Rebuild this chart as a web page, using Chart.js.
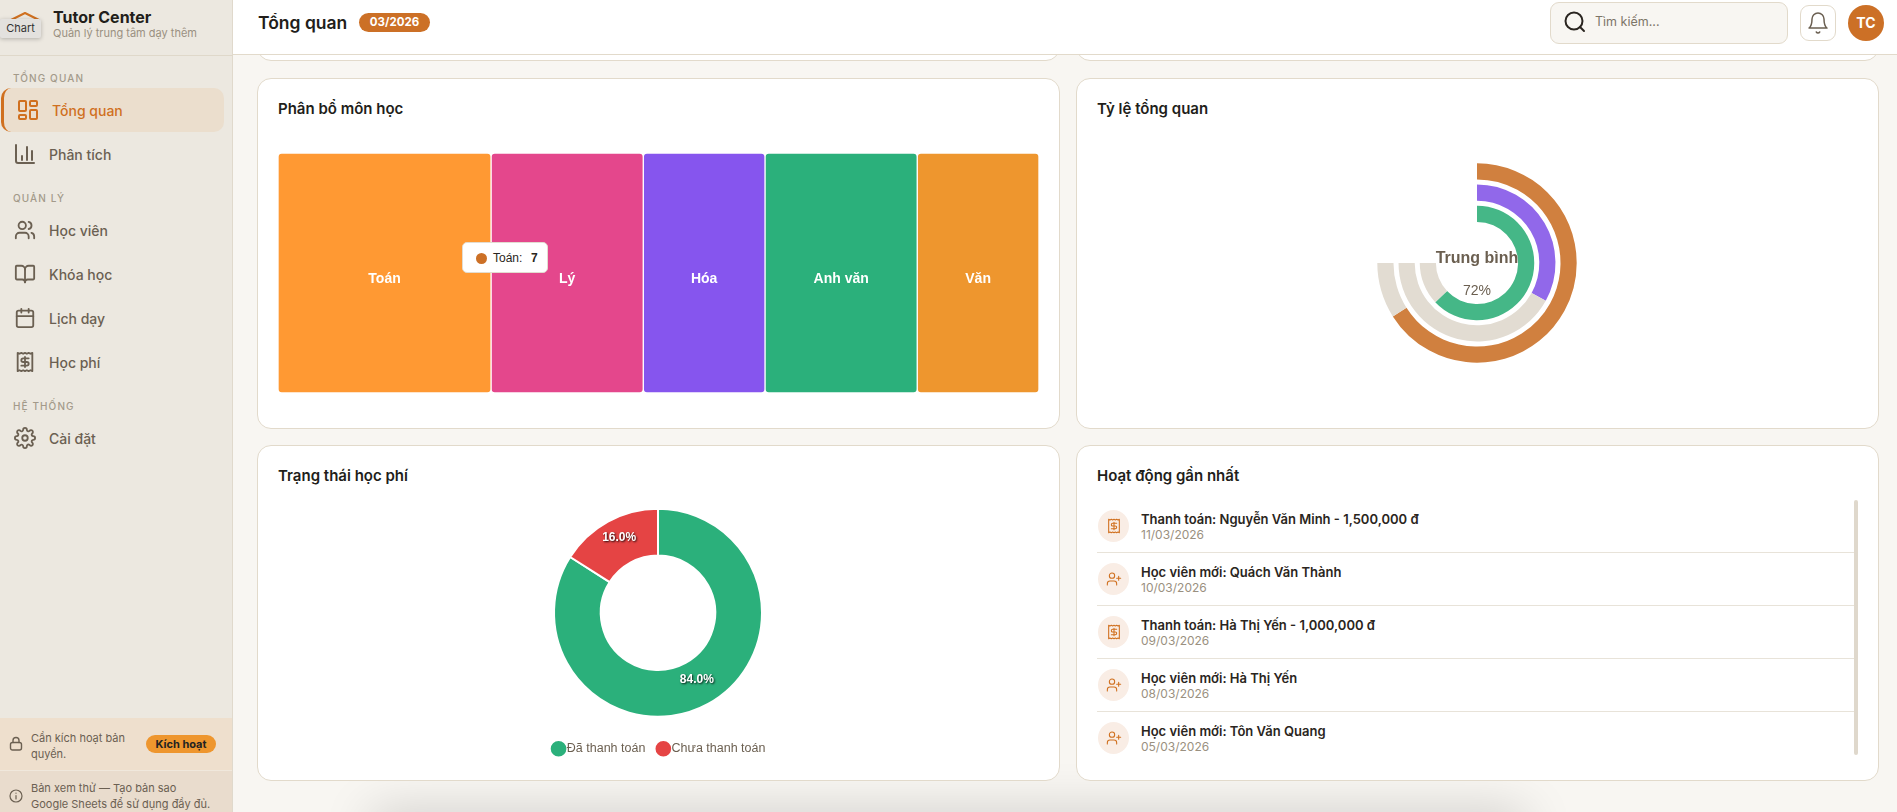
<!DOCTYPE html>
<html lang="vi"><head><meta charset="utf-8">
<script src="https://cdn.jsdelivr.net/npm/chart.js@4"></script>
<style>
*{box-sizing:border-box}
html,body{margin:0;padding:0;width:1897px;height:812px;overflow:hidden;background:#f8f6f2;font-family:Inter,"Noto Sans",sans-serif;color:#2a2520}
.t{position:absolute;white-space:nowrap;line-height:1}
svg{position:absolute;fill:none;stroke:currentColor;stroke-width:2;stroke-linecap:round;stroke-linejoin:round}
.side{position:absolute;left:0;top:0;width:233px;height:812px;background:#ece8e0;border-right:1px solid #e0d9cc}
.head{position:absolute;left:233px;top:0;width:1664px;height:55px;background:#fff;border-bottom:1px solid #e2dacb}
.card{position:absolute;background:#fff;border:1px solid #e2dacb;border-radius:14px}
.sec{font-size:10px;font-weight:500;letter-spacing:1.1px;color:#a39a8a}
.nav{font-size:14px;font-weight:500;color:#6b6052}
.ct{font-size:15px;font-weight:600;color:#221e1a}
canvas{position:absolute}
.row1{font-size:13px;font-weight:600;color:#2a2520}
.row2{font-size:12px;color:#9a9080}
.ico{position:absolute;width:31px;height:32px;left:1098px;border-radius:50%;background:#f9ede5;color:#d0701f}
.div{position:absolute;left:1097px;width:757px;height:1px;background:#e8e3d9}
</style></head><body>
<div style="position:absolute;left:372px;top:812px;width:1153px;height:40px;box-shadow:0 0 50px rgba(0,0,0,.18)"></div>
<div class="card" style="left:257px;top:-40px;width:803px;height:101px"></div>
<div class="card" style="left:1076px;top:-40px;width:803px;height:101px"></div>
<div class="card" style="left:257px;top:78px;width:803px;height:351px"></div>
<div class="card" style="left:1076px;top:78px;width:803px;height:351px"></div>
<div class="card" style="left:257px;top:445px;width:803px;height:336px"></div>
<div class="card" style="left:1076px;top:445px;width:803px;height:336px"></div>

<div class="t ct" style="left:278px;top:101px">Phân bổ môn học</div>
<div class="t ct" style="left:1097px;top:101px">Tỷ lệ tổng quan</div>
<div class="t ct" style="left:278px;top:468px">Trạng thái học phí</div>
<div class="t ct" style="left:1097px;top:468px">Hoạt động gần nhất</div>

<canvas id="tree" style="left:278px;top:153px;width:761px;height:240px"></canvas>
<canvas id="radial" style="left:1277px;top:63px;width:400px;height:400px"></canvas>
<canvas id="fee" style="left:278px;top:499px;width:760px;height:266px"></canvas>
<div id="tip" style="position:absolute;left:462px;top:242px;width:86px;height:31px;background:#fff;border:1px solid #e2dcd0;border-radius:5px;font:12px 'Liberation Sans',sans-serif;color:#2a2520"></div>

<div id="list"></div>
<div style="position:absolute;left:1854px;top:500px;width:4px;height:255px;background:#dfd8cc;border-radius:2px"></div>

<!-- header -->
<div class="head"></div>
<div class="t" style="left:258px;top:14px;font-size:17.5px;font-weight:600;color:#221e1a">Tổng quan</div>
<div class="t" style="left:359px;top:13px;width:71px;height:19px;border-radius:10px;background:#cc7026;color:#fff;font-size:11.5px;font-weight:700;text-align:center;line-height:19px">03/2026</div>
<div style="position:absolute;left:1550px;top:2px;width:238px;height:42px;background:#f8f6f2;border:1px solid #e2dacb;border-radius:9px"></div>
<svg style="left:1564px;top:11px;color:#2a2520" width="22" height="22" viewBox="0 0 22 22"><circle cx="10" cy="10" r="8.5"/><path d="M16 16l4 4"/></svg>
<div class="t" style="left:1595px;top:16px;font-size:12.5px;color:#7d7568">Tìm kiếm...</div>
<div style="position:absolute;left:1800px;top:5px;width:36px;height:36px;background:#fff;border:1px solid #e2dacb;border-radius:9px"></div>
<svg style="left:1806px;top:11px;color:#6b6052;stroke-width:1.5" width="24" height="24" viewBox="0 0 24 24"><path d="M6 8a6 6 0 0 1 12 0c0 7 3 9 3 9H3s3-2 3-9"/><path d="M10.3 21a2 2 0 0 0 3.4 0"/></svg>
<div class="t" style="left:1848px;top:5px;width:36px;height:36px;border-radius:50%;background:#cc7026;color:#fff;font-size:14px;font-weight:700;text-align:center;line-height:36px">TC</div>

<!-- sidebar -->
<div class="side"></div>
<svg style="left:8px;top:10px;color:#d0701f" width="34" height="12" viewBox="0 0 34 12"><path d="M3 10L17 3l14 7"/></svg>
<div class="t" style="left:0;top:19px;width:41px;height:19px;background:#e3e1de;border-radius:2px;box-shadow:0 1px 4px rgba(0,0,0,.25);font:11px Inter,sans-serif;color:#333;text-align:center;line-height:19px">Chart</div>
<div class="t" style="left:53px;top:9px;font-size:16px;font-weight:700;color:#221e1a">Tutor Center</div>
<div class="t" style="left:53px;top:28px;font-size:11px;color:#9a9080">Quản lý trung tâm dạy thêm</div>
<div style="position:absolute;left:0;top:55px;width:233px;height:1px;background:#dfd8ca"></div>

<div class="t sec" style="left:13px;top:73px">TỔNG QUAN</div>
<div style="position:absolute;left:1px;top:88px;width:223px;height:44px;background:#ebdecd;border-left:3px solid #d0701f;border-radius:10px"></div>
<svg style="left:17px;top:99px;color:#d0701f" width="22" height="22" viewBox="0 0 22 22"><rect x="2" y="2" width="7" height="10" rx="1"/><rect x="13" y="2" width="7" height="5" rx="1"/><rect x="13" y="11" width="7" height="9" rx="1"/><rect x="2" y="16" width="7" height="4" rx="1"/></svg>
<div class="t nav" style="left:52px;top:104px;color:#d0701f">Tổng quan</div>
<svg style="left:14px;top:143px;color:#6b6052" width="22" height="22" viewBox="0 0 22 22"><path d="M2 2v16a2 2 0 0 0 2 2h16"/><path d="M8 17v-4M13 17V4M18 17V8"/></svg>
<div class="t nav" style="left:49px;top:148px">Phân tích</div>
<div class="t sec" style="left:13px;top:193px">QUẢN LÝ</div>
<svg style="left:14px;top:219px;color:#6b6052" width="22" height="22" viewBox="0 0 24 24"><path d="M16 21v-2a4 4 0 0 0-4-4H6a4 4 0 0 0-4 4v2"/><circle cx="9" cy="7" r="4"/><path d="M22 21v-2a4 4 0 0 0-3-3.9M16 3.1a4 4 0 0 1 0 7.8"/></svg>
<div class="t nav" style="left:49px;top:224px">Học viên</div>
<svg style="left:14px;top:263px;color:#6b6052" width="22" height="22" viewBox="0 0 24 24"><path d="M12 7v14"/><path d="M3 18a1 1 0 0 1-1-1V4a1 1 0 0 1 1-1h5a4 4 0 0 1 4 4 4 4 0 0 1 4-4h5a1 1 0 0 1 1 1v13a1 1 0 0 1-1 1h-6a3 3 0 0 0-3 3 3 3 0 0 0-3-3z"/></svg>
<div class="t nav" style="left:49px;top:268px">Khóa học</div>
<svg style="left:14px;top:307px;color:#6b6052" width="22" height="22" viewBox="0 0 24 24"><path d="M8 2v4M16 2v4"/><rect x="3" y="4" width="18" height="18" rx="2"/><path d="M3 10h18"/></svg>
<div class="t nav" style="left:49px;top:312px">Lịch dạy</div>
<svg style="left:14px;top:351px;color:#6b6052" width="22" height="22" viewBox="0 0 24 24"><path d="M4 2v20l2-1 2 1 2-1 2 1 2-1 2 1 2-1 2 1V2l-2 1-2-1-2 1-2-1-2 1-2-1-2 1Z"/><path d="M16 8h-6a2 2 0 1 0 0 4h4a2 2 0 1 1 0 4H8M12 17.5v-11"/></svg>
<div class="t nav" style="left:49px;top:356px">Học phí</div>
<div class="t sec" style="left:13px;top:401px">HỆ THỐNG</div>
<svg style="left:14px;top:427px;color:#6b6052" width="22" height="22" viewBox="0 0 24 24"><circle cx="12" cy="12" r="3"/><path d="M19.4 15a1.7 1.7 0 0 0 .3 1.8l.1.1a2 2 0 1 1-2.8 2.8l-.1-.1a1.7 1.7 0 0 0-2.9 1.2V21a2 2 0 1 1-4 0v-.1a1.7 1.7 0 0 0-2.9-1.2l-.1.1a2 2 0 1 1-2.8-2.8l.1-.1a1.7 1.7 0 0 0-1.2-2.9H3a2 2 0 1 1 0-4h.1a1.7 1.7 0 0 0 1.2-2.9l-.1-.1a2 2 0 1 1 2.8-2.8l.1.1a1.7 1.7 0 0 0 1.9.3H9a1.7 1.7 0 0 0 1-1.5V3a2 2 0 1 1 4 0v.1a1.7 1.7 0 0 0 2.9 1.2l.1-.1a2 2 0 1 1 2.8 2.8l-.1.1a1.7 1.7 0 0 0-.3 1.9V9a1.7 1.7 0 0 0 1.5 1H21a2 2 0 1 1 0 4h-.1a1.7 1.7 0 0 0-1.5 1z"/></svg>
<div class="t nav" style="left:49px;top:432px">Cài đặt</div>

<div style="position:absolute;left:0;top:718px;width:232px;height:52px;background:#eedfcd"></div>
<div style="position:absolute;left:0;top:770px;width:232px;height:42px;background:#e9dccd;border-top:1px solid #f0e8dc"></div>
<svg style="left:9px;top:736px;color:#6b6052;stroke-width:1.4" width="14" height="15" viewBox="0 0 14 15"><rect x="1.5" y="6.5" width="11" height="7.5" rx="2"/><path d="M4 6.5V4.5a3 3 0 0 1 6 0v2"/></svg>
<div class="t" style="left:31px;top:730px;font-size:11px;color:#6b6052;line-height:16px;white-space:normal;width:100px">Cần kích hoạt bản quyền.</div>
<div class="t" style="left:146px;top:735px;width:70px;height:18px;border-radius:9px;background:#ee962e;color:#222;font-size:11px;font-weight:700;text-align:center;line-height:18px">Kích hoạt</div>
<svg style="left:9px;top:789px;color:#6b6052;stroke-width:1.2" width="14" height="14" viewBox="0 0 14 14"><circle cx="7" cy="7" r="6"/><path d="M7 6.5v3.5M7 4v.2"/></svg>
<div class="t" style="left:31px;top:780px;font-size:11px;color:#6b6052;line-height:16px">Bản xem thử — Tạo bản sao<br>Google Sheets để sử dụng đầy đủ.</div>

<script>
// ---- data ----
const subjects = ['Toán', 'Lý', 'Hóa', 'Anh văn', 'Văn'];
const subjectCounts = [7, 5, 4, 5, 4];
const subjectColors = ['#ff9933', '#e4478c', '#8655ee', '#2bb07b', '#ee962e'];

const radialLabels = ['A', 'B', 'C'];
const radialValues = [88, 44, 84];
const radialColors = ['#d0803f', '#9168ea', '#45b787'];
const radialTrack = '#e2dcd2';
const radialCenterLabel = 'Trung bình';
const radialCenterValue = '72%';

const feeLabels = ['Đã thanh toán', 'Chưa thanh toán'];
const feeValues = [84, 16];
const feeColors = ['#2bb07b', '#e54444'];

const activityTitles = ['Thanh toán: Nguyễn Văn Minh - 1,500,000 đ', 'Học viên mới: Quách Văn Thành', 'Thanh toán: Hà Thị Yến - 1,000,000 đ', 'Học viên mới: Hà Thị Yến', 'Học viên mới: Tôn Văn Quang'];
const activityDates = ['11/03/2026', '10/03/2026', '09/03/2026', '08/03/2026', '05/03/2026'];

Chart.defaults.animation = false;
Chart.defaults.responsive = false;
Chart.defaults.font.family = '"Liberation Sans", Arial, sans-serif';

function size(id){const c=document.getElementById(id);c.width=parseInt(c.style.width);c.height=parseInt(c.style.height);return c;}

// ---- subject distribution: one stacked horizontal bar ----
const treeLabels = {id:'treeLabels', afterDatasetsDraw(ch){
  const g=ch.ctx; g.save(); g.fillStyle='#fff'; g.font='bold 14px "Liberation Sans",Arial,sans-serif'; g.textAlign='center'; g.textBaseline='middle';
  ch.data.datasets.forEach((d,i)=>{const b=ch.getDatasetMeta(i).data[0]; g.fillText(d.label,(b.x+b.base)/2,b.y+6);});
  g.restore();
}};
new Chart(size('tree'),{type:'bar',
  data:{labels:['Môn học'],datasets:subjects.map((s,i)=>({label:s,data:[subjectCounts[i]],backgroundColor:subjectColors[i],borderColor:'#fff',borderWidth:1,borderSkipped:false,borderRadius:{topLeft:4,topRight:4,bottomLeft:4,bottomRight:4},barPercentage:1,categoryPercentage:1}))},
  options:{indexAxis:'y',layout:{padding:0},plugins:{legend:{display:false},tooltip:{enabled:false}},
    scales:{x:{display:false,stacked:true,min:0,max:subjectCounts.reduce((a,b)=>a+b,0)},y:{display:false,stacked:true}}},
  plugins:[treeLabels]});

// ---- radial rings: doughnut with empty datasets as gaps ----
const radialCenter = {id:'radialCenter', afterDraw(ch){
  const g=ch.ctx,m=ch.getDatasetMeta(0).data[0]; g.save(); g.fillStyle='#6b5f50'; g.textAlign='center'; g.textBaseline='middle';
  g.font='bold 16px "Liberation Sans",Arial,sans-serif'; g.fillText(radialCenterLabel,m.x,m.y-4);
  g.font='14px "Liberation Sans",Arial,sans-serif'; g.fillText(radialCenterValue,m.x,m.y+28);
  g.restore();
}};
const radialSets=[];
radialValues.forEach((v,i)=>{
  if(i) radialSets.push({label:'gap',data:[],weight:5});
  radialSets.push({label:radialLabels[i],data:[v,100-v],backgroundColor:[radialColors[i],radialTrack],borderWidth:0,weight:16});
});
new Chart(size('radial'),{type:'doughnut',data:{labels:['v','rest'],datasets:radialSets},
  options:{rotation:0,circumference:270,radius:99.7,cutout:'41.2%',layout:{padding:0},plugins:{legend:{display:false},tooltip:{enabled:false}}},
  plugins:[radialCenter]});

// ---- fee status doughnut ----
const feeLabelsPlugin = {id:'feePct', afterLayout(ch){ch.legend.left+=3;ch.legend.right+=3;}, afterDatasetsDraw(ch){
  const g=ch.ctx,meta=ch.getDatasetMeta(0),tot=feeValues.reduce((a,b)=>a+b,0); g.save();
  g.font='bold 12px "Liberation Sans",Arial,sans-serif'; g.textAlign='center'; g.textBaseline='middle';
  meta.data.forEach((a,i)=>{const p=a.tooltipPosition(); const s=(feeValues[i]/tot*100).toFixed(1)+'%';
    g.shadowColor='rgba(0,0,0,.85)'; g.shadowBlur=2; g.shadowOffsetX=1; g.shadowOffsetY=1; g.fillStyle='#fff'; g.fillText(s,p.x,p.y-4);});
  g.restore();
}};
new Chart(size('fee'),{type:'doughnut',data:{labels:feeLabels,datasets:[{data:feeValues,backgroundColor:feeColors,borderColor:'#fff',borderWidth:2}]},
  options:{radius:104,cutout:'55%',layout:{padding:{top:0,bottom:0}},
    plugins:{tooltip:{enabled:false},legend:{position:'bottom',labels:{usePointStyle:true,pointStyle:'circle',boxWidth:4,boxHeight:12.5,padding:16,color:'#6b5f50',font:{size:12.5}}}}},
  plugins:[feeLabelsPlugin]});

// ---- tooltip ----
const tip=document.getElementById('tip');
tip.innerHTML='<span style="position:absolute;left:13px;top:10px;width:11px;height:11px;border-radius:50%;background:#cc7026"></span><span style="position:absolute;left:30px;top:8px;white-space:nowrap">'+subjects[0]+':</span><b style="position:absolute;left:68px;top:8px">'+subjectCounts[0]+'</b>';

// ---- activity list ----
const moneySvg='<svg style="left:8px;top:8px;stroke-width:1.6" width="16" height="16" viewBox="0 0 24 24"><path d="M4 2v20l2-1 2 1 2-1 2 1 2-1 2 1 2-1 2 1V2l-2 1-2-1-2 1-2-1-2 1-2-1-2 1Z"/><path d="M16 8h-6a2 2 0 1 0 0 4h4a2 2 0 1 1 0 4H8M12 17.5v-11"/></svg>';
const userSvg='<svg style="left:8px;top:8px;stroke-width:1.6" width="16" height="16" viewBox="0 0 24 24"><path d="M16 21v-2a4 4 0 0 0-4-4H6a4 4 0 0 0-4 4v2"/><circle cx="9" cy="7" r="4"/><path d="M19 8v6M22 11h-6"/></svg>';
let h='';
activityTitles.forEach((t,i)=>{const y=510+i*53;
  h+='<div class="ico" style="top:'+y+'px">'+(t.startsWith('Thanh')?moneySvg:userSvg)+'</div>';
  h+='<div class="t row1" style="left:1141px;top:'+(y+3)+'px">'+t+'</div>';
  h+='<div class="t row2" style="left:1141px;top:'+(y+19)+'px">'+activityDates[i]+'</div>';
  if(i<4) h+='<div class="div" style="top:'+(y+42)+'px"></div>';
});
document.getElementById('list').innerHTML=h;
</script>
</body></html>
